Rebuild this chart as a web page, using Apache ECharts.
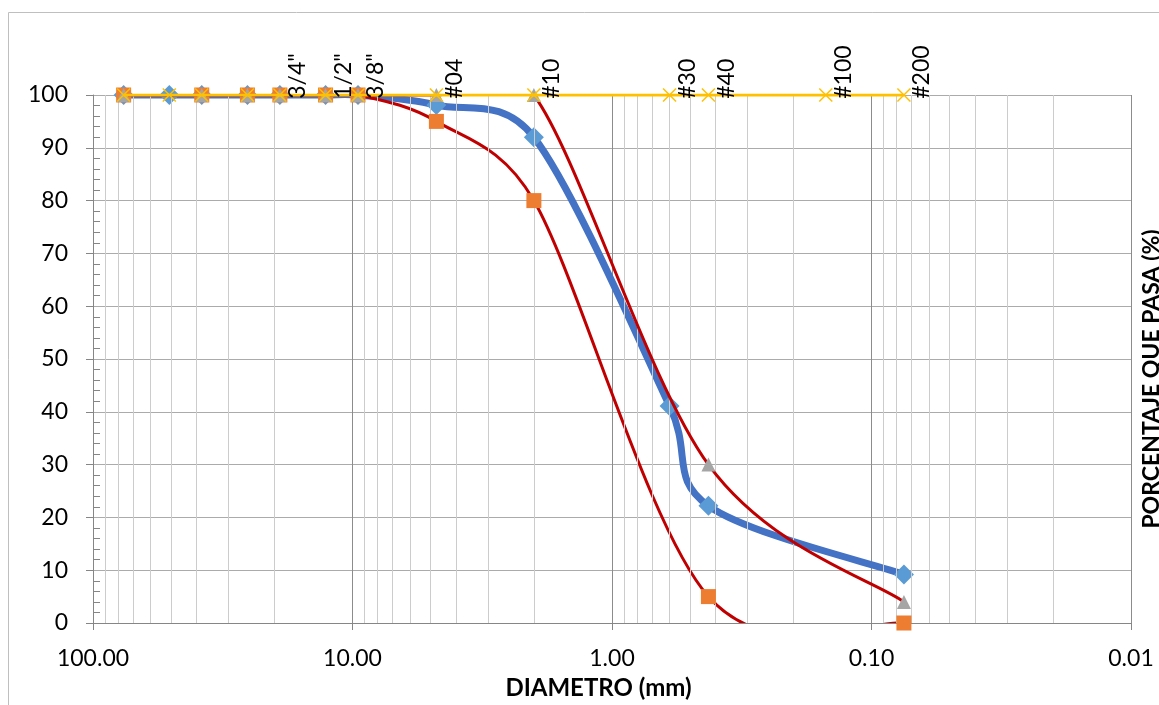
<!DOCTYPE html>
<html>
<head>
<meta charset="utf-8">
<title>Curva granulométrica</title>
<script src="https://cdn.jsdelivr.net/npm/echarts@6/dist/echarts.min.js"></script>
<style>
    html, body { margin: 0; padding: 0; background: #fff; }
    #chart { width: 1159px; height: 705px; }
</style>
</head>
<body>
<div id="chart"></div>
<script>
    // abertura de tamices (mm)
    const diametros = [76.2, 50.8, 38.1, 25.4, 19.05, 12.7, 9.525, 4.75, 2.0, 0.6, 0.425, 0.15, 0.075];
    const tamices = ['', '', '', '', '3/4"', '1/2"', '3/8"', '#04', '#10', '#30', '#40', '#100', '#200'];
    // % que pasa
    const pasaMuestra = [100, 100, 100, 100, 100, 100, 100, 98.1, 92.0, 41.1, 22.2, null, 9.2];
    const limiteInferior = [100, null, 100, 100, 100, 100, 100, 95, 80, null, 5, null, 0];
    const limiteSuperior = [100, null, 100, 100, 100, 100, 100, 100, 100, null, 30, null, 4];
    const lineaTamices = [100, 100, 100, 100, 100, 100, 100, 100, 100, 100, 100, 100, 100];

    const FONT = 'Lato';

    // junta diametro + valor, sin los huecos
    function pares(valores, etiquetas) {
        const out = [];
        valores.forEach((v, i) => {
            if (v === null) return;
            out.push(etiquetas ? [diametros[i], v, etiquetas[i]] : [diametros[i], v]);
        });
        return out;
    }

    // lineas secundarias de la escala log (2..9 de cada decada)
    const menores = [];
    [0.01, 0.1, 1, 10].forEach((d) => {
        for (let k = 2; k <= 9; k++) menores.push({ xAxis: +(d * k).toPrecision(3) });
    });

    const dist = (a, b) => Math.hypot(b[0] - a[0], b[1] - a[1]);

    // curva suavizada tipo excel: cada dato dibuja el tramo que llega a el
    function curva(datos, color, ancho, z) {
        return {
            type: 'custom',
            coordinateSystem: 'cartesian2d',
            clip: true,
            silent: true,
            z: z,
            encode: { x: 0, y: 1 },
            data: datos,
            renderItem(params, api) {
                const i = params.dataIndex;
                if (i === 0) return null;
                const p = datos.map((d) => api.coord([d[0], d[1]]));
                const p0 = p[Math.max(i - 2, 0)];
                const p1 = p[i - 1];
                const p2 = p[i];
                const p3 = p[Math.min(i + 1, p.length - 1)];
                const d12 = dist(p1, p2);
                const d02 = dist(p0, p2);
                const d13 = dist(p1, p3);
                const f = d02 / 6 < d12 / 2 ? 1 / 6 : d12 / (2 * d02);
                const g = d13 / 6 < d12 / 2 ? 1 / 6 : d12 / (2 * d13);
                return {
                    type: 'bezierCurve',
                    shape: {
                        x1: p1[0], y1: p1[1],
                        x2: p2[0], y2: p2[1],
                        cpx1: p1[0] + (p2[0] - p0[0]) * f,
                        cpy1: p1[1] + (p2[1] - p0[1]) * f,
                        cpx2: p2[0] - (p3[0] - p1[0]) * g,
                        cpy2: p2[1] - (p3[1] - p1[1]) * g
                    },
                    style: { fill: 'none', stroke: color, lineWidth: ancho, lineCap: 'round' }
                };
            }
        };
    }

    function marcas(datos, symbol, size, color, z) {
        return {
            type: 'scatter',
            z: z,
            silent: true,
            data: datos,
            symbol: symbol,
            symbolSize: size,
            itemStyle: { color: color, opacity: 1 }
        };
    }

    const myChart = echarts.init(document.getElementById('chart'));

    const option = {
        animation: false,
        textStyle: { fontFamily: FONT },
        graphic: [{
            type: 'rect',
            shape: { x: 8.5, y: 12.5, width: 1200, height: 800 },
            style: { fill: 'none', stroke: '#bfbfbf', lineWidth: 1 },
            silent: true
        }],
        grid: { left: 93, right: 28, top: 95, bottom: 82, containLabel: false, outerBoundsMode: 'none' },
        xAxis: {
            type: 'log',
            logBase: 10,
            min: 0.01,
            max: 100,
            inverse: true,
            name: 'DIAMETRO (mm)',
            nameLocation: 'middle',
            nameGap: 53,
            nameTextStyle: {
                fontFamily: FONT, fontWeight: 'bold', fontSize: 24, color: '#000',
                padding: [0, 27, 0, 0]
            },
            axisLine: { lineStyle: { color: '#868686', width: 1 } },
            axisTick: { show: true, length: 7, lineStyle: { color: '#868686' } },
            axisLabel: {
                fontFamily: FONT, fontSize: 23, color: '#000', margin: 24,
                showMinLabel: true, showMaxLabel: true,
                formatter: (v) => Number(v).toFixed(2)
            },
            splitLine: { show: true, lineStyle: { color: '#8c8c8c', width: 1 } }
        },
        yAxis: [{
            type: 'value',
            min: 0,
            max: 100,
            interval: 10,
            axisLine: { show: true, lineStyle: { color: '#868686', width: 1 } },
            axisTick: { show: true, length: 7, lineStyle: { color: '#868686' } },
            minorTick: { show: true, splitNumber: 5, length: -7, lineStyle: { color: '#868686' } },
            axisLabel: { fontFamily: FONT, fontSize: 23, color: '#000', margin: 25 },
            splitLine: { show: true, lineStyle: { color: '#ababab', width: 1 } }
        }, {
            type: 'value',
            position: 'right',
            min: 0,
            max: 100,
            name: 'PORCENTAJE QUE PASA (%)',
            nameLocation: 'middle',
            nameRotate: 90,
            nameGap: 9,
            nameTextStyle: {
                fontFamily: FONT, fontWeight: 'bold', fontSize: 23, color: '#000',
                padding: [0, 40, 0, 0]
            },
            axisLine: { show: false },
            axisTick: { show: false },
            axisLabel: { show: false },
            splitLine: { show: false }
        }],
        series: [{
            // rejilla menor
            type: 'line',
            z: 1,
            data: [],
            silent: true,
            markLine: {
                silent: true,
                symbol: ['none', 'none'],
                label: { show: false },
                emphasis: { disabled: true },
                lineStyle: { type: 'solid', color: '#cccccc', width: 1 },
                data: menores
            }
        },
        curva(pares(pasaMuestra), '#4472C4', 7, 2),
        marcas(pares(pasaMuestra), 'diamond', 20, '#5B9BD5', 3),
        curva(pares(limiteInferior), '#C00000', 3, 4),
        marcas(pares(limiteInferior), 'rect', 15, '#ED7D31', 5),
        curva(pares(limiteSuperior), '#C00000', 3, 6),
        marcas(pares(limiteSuperior), 'triangle', 14, '#A5A5A5', 7),
        {
            name: 'Tamices',
            type: 'line',
            z: 8,
            silent: true,
            data: pares(lineaTamices, tamices),
            symbol: 'path://M0,0L10,10M10,0L0,10',
            symbolSize: 13,
            itemStyle: { color: '#FFC000', borderColor: '#FFC000', borderWidth: 1.5 },
            lineStyle: { color: '#FFC000', width: 3 },
            label: {
                show: true,
                rotate: 90,
                position: [25, 11],
                align: 'left',
                verticalAlign: 'middle',
                fontFamily: FONT,
                fontSize: 23,
                color: '#000',
                formatter: (p) => p.data[2]
            }
        }]
    };

    myChart.setOption(option);
    window.onresize = () => {
        myChart.resize();
    };
</script>
</body>
</html>
